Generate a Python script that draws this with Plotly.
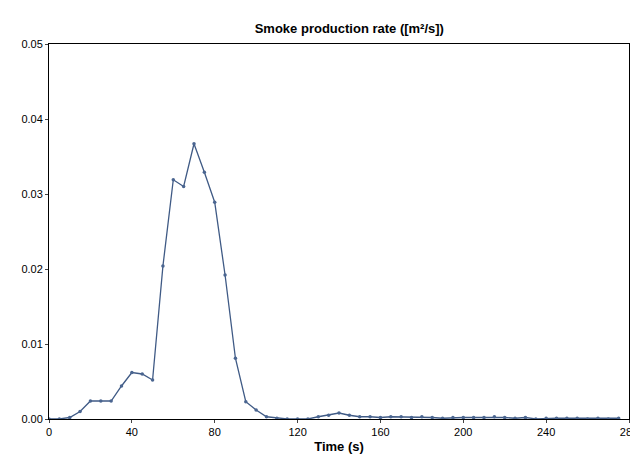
import plotly.graph_objects as go

time_s = list(range(0, 280, 5))
smoke = [0, 0, 0.0002, 0.001, 0.0024, 0.0024, 0.0024, 0.0044, 0.0062, 0.006, 0.0052,
         0.0204, 0.0319, 0.031, 0.0367, 0.0329, 0.0289, 0.0192, 0.0081, 0.0023, 0.0012,
         0.0003, 0.0001, 0.0, 0.0, 0.0, 0.0003, 0.0005, 0.0008, 0.0005, 0.0003,
         0.0003, 0.0002, 0.0003, 0.0003, 0.0002, 0.0003, 0.0002, 0.0001, 0.0002, 0.0002,
         0.0002, 0.0002, 0.0003, 0.0002, 0.0001, 0.0002, 0.0, 0.0001, 0.0001, 0.0001,
         0.0001, 0.0, 0.0001, 0.0, 0.0001]

fig = go.Figure(go.Scatter(x=time_s, y=smoke, mode="lines+markers",
                           line=dict(color="#3f5a85", width=1.3),
                           marker=dict(size=3.5, color="#4a6590")))
fig.update_layout(
    width=638, height=468, paper_bgcolor="white", plot_bgcolor="white",
    margin=dict(l=41, r=8, t=36, b=57),
    title=dict(text="<b>Smoke production rate ([m²/s])</b>", x=0.535, y=0.965,
               font=dict(family="Liberation Sans", size=13, color="black")),
    font=dict(family="Liberation Sans", size=11, color="black"),
    showlegend=False,
)
fig.update_xaxes(range=[0, 280], tickvals=list(range(0, 281, 40)), showgrid=False,
                 showline=True, mirror=True, linecolor="black", linewidth=1,
                 ticks="outside", ticklen=3, zeroline=False, ticklabeloverflow="allow",
                 title=dict(text="<b>Time (s)</b>", standoff=4))
fig.update_yaxes(range=[0, 0.05], tickvals=[0, 0.01, 0.02, 0.03, 0.04, 0.05],
                 tickformat=".2f", showgrid=False, showline=True, mirror=True,
                 linecolor="black", linewidth=1, ticks="outside", ticklen=3, zeroline=False)
fig.write_html("out.html")
